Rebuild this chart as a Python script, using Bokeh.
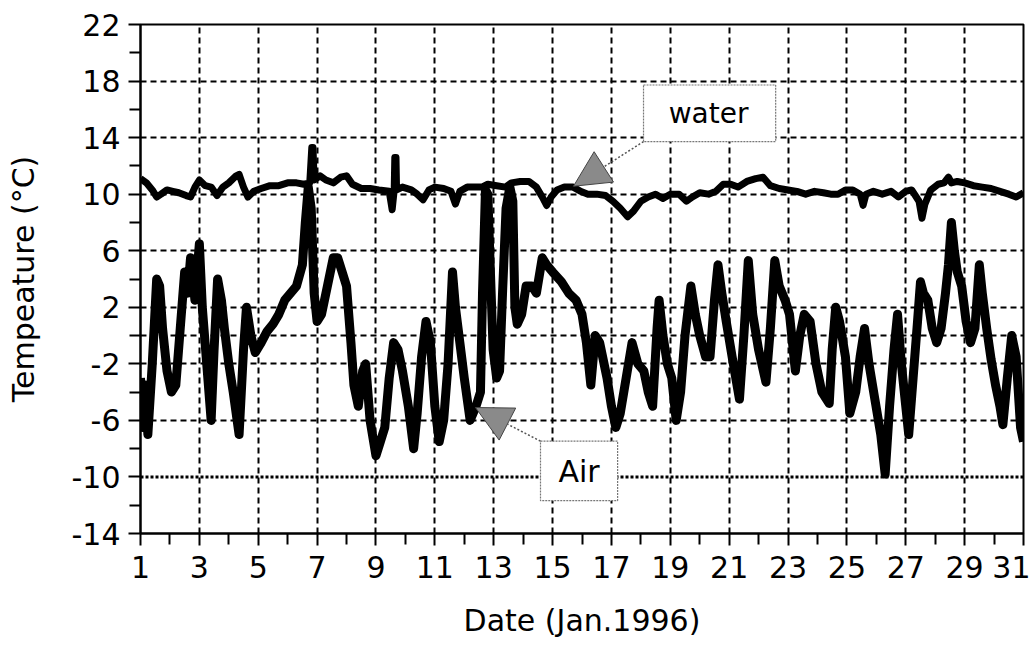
from bokeh.plotting import figure
from bokeh.models import FixedTicker, Span, Arrow, NormalHead, Range1d
from bokeh.core.properties import value
from bokeh.embed import file_html
from bokeh.resources import INLINE

# ---- data ----
air_day = [1.00, 1.08, 1.15, 1.25, 1.40, 1.55, 1.65, 1.75, 1.90, 2.05, 2.20, 2.35, 2.50, 2.60, 2.70, 2.85,
           3.00, 3.10, 3.25, 3.40, 3.50, 3.62, 3.75, 3.85, 4.00, 4.15, 4.35, 4.50, 4.60, 4.75, 4.90,
           5.10, 5.30, 5.50, 5.70, 5.90, 6.10, 6.30, 6.50, 6.60, 6.70, 6.80, 6.90, 7.00, 7.15, 7.35,
           7.55, 7.70, 7.85, 8.00, 8.15, 8.25, 8.40, 8.55, 8.65, 8.80, 9.00, 9.15, 9.30, 9.45, 9.60,
           9.75, 9.90, 10.10, 10.28, 10.40, 10.55, 10.70, 10.85, 11.00, 11.15, 11.30, 11.45, 11.60,
           11.70, 11.85, 12.00, 12.20, 12.40, 12.55, 12.62, 12.72, 12.80, 12.88, 12.98, 13.10, 13.20,
           13.30, 13.42, 13.55, 13.65, 13.72, 13.80, 13.95, 14.10, 14.30, 14.45, 14.65, 14.80, 15.00,
           15.30, 15.55, 15.80, 16.00, 16.15, 16.30, 16.45, 16.60, 16.85, 17.00, 17.15, 17.30, 17.50,
           17.70, 17.90, 18.10, 18.25, 18.40, 18.55, 18.62, 18.75, 18.90, 19.05, 19.20, 19.35, 19.50,
           19.70, 19.85, 20.00, 20.20, 20.35, 20.50, 20.62, 20.75, 20.90, 21.10, 21.35, 21.50, 21.65,
           21.80, 22.00, 22.25, 22.40, 22.55, 22.70, 22.90, 23.05, 23.25, 23.40, 23.55, 23.75, 23.95,
           24.15, 24.40, 24.50, 24.62, 24.75, 24.95, 25.10, 25.30, 25.45, 25.60, 25.75, 25.95, 26.15,
           26.30, 26.45, 26.60, 26.72, 26.85, 27.00, 27.10, 27.25, 27.40, 27.50, 27.60, 27.75, 27.90,
           28.05, 28.20, 28.35, 28.45, 28.55, 28.65, 28.75, 28.90, 29.05, 29.20, 29.35, 29.50, 29.60,
           29.75, 29.90, 30.05, 30.20, 30.30, 30.45, 30.60, 30.75, 30.90, 31.00]
air_temp = [-3.0, -6.5, -3.5, -7.0, -2.0, 4.0, 3.5, 0.5, -2.5, -4.0, -3.5, 0.5, 4.5, 3.0, 5.5, 2.5,
            6.5, 2.0, -2.0, -6.0, -1.0, 4.0, 2.5, 0.5, -2.0, -4.0, -7.0, -1.0, 2.0, 0.0, -1.2,
            -0.5, 0.3, 0.8, 1.5, 2.5, 3.0, 3.5, 5.0, 8.0, 10.5, 9.0, 3.0, 1.0, 1.5, 3.5,
            5.5, 5.5, 4.5, 3.5, -0.5, -3.5, -5.0, -2.5, -2.0, -6.0, -8.5, -7.5, -6.5, -3.0, -0.5,
            -1.0, -2.5, -5.0, -8.0, -5.5, -1.5, 1.0, -0.5, -5.0, -7.5, -6.0, -2.0, 4.5,
            2.0, -0.5, -3.0, -6.0, -5.0, -4.0, 3.0, 10.3, 10.0, 5.0, -1.0, -3.0, -2.5,
            3.0, 9.0, 10.5, 9.5, 2.0, 0.8, 1.5, 3.5, 3.5, 3.0, 5.5, 5.0, 4.5,
            3.8, 3.0, 2.5, 1.5, -0.5, -3.5, 0.0, -0.5, -3.0, -5.0, -6.5, -5.5, -3.0,
            -0.5, -2.0, -2.5, -4.0, -5.0, 0.5, 2.5, 0.0, -2.0, -3.0, -6.0, -4.0, 0.0,
            3.5, 1.5, 0.0, -1.5, -1.5, 2.5, 5.0, 3.0, 1.0, -1.5, -4.5, 0.0, 5.3,
            1.5, -1.0, -3.3, 0.5, 5.3, 3.5, 2.5, 1.5, -2.5, 0.0, 1.5, 1.0, -2.0,
            -4.0, -4.8, -1.0, 2.0, 1.0, -1.5, -5.5, -4.0, -1.5, 0.5, -2.0, -4.5, -7.0,
            -9.8, -5.0, -1.0, 1.5, -2.0, -5.0, -7.0, -3.0, 1.0, 3.8, 3.0, 2.5, 0.5,
            -0.5, 0.5, 3.0, 5.0, 8.0, 6.0, 4.5, 3.5, 1.0, -0.5, 0.5, 5.0, 3.0,
            0.5, -1.7, -3.5, -5.0, -6.3, -3.0, 0.0, -1.5, -6.5, -7.5]

water_day = [1.00, 1.20, 1.40, 1.55, 1.70, 1.90, 2.10, 2.30, 2.55, 2.70, 2.85, 3.00, 3.20, 3.40, 3.60,
             3.80, 4.00, 4.25, 4.35, 4.50, 4.65, 4.85, 5.10, 5.40, 5.70, 6.00, 6.30, 6.55, 6.75, 6.82,
             6.86, 6.90, 7.10, 7.30, 7.55, 7.80, 8.00, 8.20, 8.50, 8.80, 9.10, 9.45, 9.55, 9.62, 9.64,
             9.68, 9.70, 9.90, 10.20, 10.40, 10.60, 10.80, 11.00, 11.30, 11.55, 11.70, 11.85, 12.10,
             12.40, 12.60, 12.80, 13.10, 13.40, 13.60, 13.90, 14.20, 14.45, 14.65, 14.80, 14.95, 15.15,
             15.40, 15.70, 15.95, 16.20, 16.50, 16.80, 17.05, 17.30, 17.55, 17.75, 18.00, 18.25, 18.50,
             18.75, 19.00, 19.30, 19.55, 19.75, 20.00, 20.30, 20.55, 20.80, 21.05, 21.30, 21.60, 21.90,
             22.15, 22.40, 22.70, 23.00, 23.30, 23.60, 23.90, 24.20, 24.45, 24.70, 24.95, 25.20, 25.45,
             25.55, 25.65, 25.90, 26.20, 26.50, 26.75, 27.00, 27.20, 27.45, 27.55, 27.65, 27.85, 28.10,
             28.30, 28.45, 28.55, 28.75, 29.00, 29.30, 29.60, 29.90, 30.20, 30.50, 30.75, 31.00]
water_temp = [11.1, 10.8, 10.3, 9.8, 10.0, 10.3, 10.2, 10.1, 9.9, 9.8, 10.5, 11.0, 10.6, 10.5, 9.9,
              10.5, 10.8, 11.3, 11.4, 10.5, 9.8, 10.2, 10.4, 10.6, 10.6, 10.8, 10.8, 10.7, 10.8, 13.3,
              13.3, 11.0, 11.3, 11.0, 10.8, 11.2, 11.3, 10.7, 10.4, 10.4, 10.3, 10.2, 8.9, 10.3, 12.6,
              12.6, 10.3, 10.5, 10.3, 10.0, 9.6, 10.3, 10.5, 10.4, 10.2, 9.3, 10.2, 10.5,
              10.5, 10.5, 10.7, 10.6, 10.5, 10.8, 10.9, 10.9, 10.5, 9.8, 9.2, 9.8, 10.3,
              10.5, 10.5, 10.2, 10.0, 10.0, 9.9, 9.5, 9.0, 8.4, 8.8, 9.5, 9.8, 10.0,
              9.7, 10.0, 10.0, 9.5, 9.8, 10.1, 10.0, 10.2, 10.7, 10.7, 10.5, 10.9, 11.1,
              11.2, 10.6, 10.4, 10.3, 10.2, 10.0, 10.2, 10.1, 10.0, 10.0, 10.3, 10.3, 10.0,
              9.2, 10.0, 10.2, 10.0, 10.2, 9.8, 10.2, 10.3, 9.5, 8.3, 9.3, 10.3, 10.7,
              10.8, 11.2, 10.8, 10.9, 10.8, 10.6, 10.5, 10.4, 10.2, 10.0, 9.8, 10.1]

x_major = [1, 3, 5, 7, 9, 11, 13, 15, 17, 19, 21, 23, 25, 27, 29, 31]
x_minor = [2, 4, 6, 8, 10, 12, 14, 16, 18, 20, 22, 24, 26, 28, 30]
y_major = [-14, -10, -6, -2, 2, 6, 10, 14, 18, 22]
y_minor = [-12, -8, -4, 0, 4, 8, 12, 16, 20]
x_grid = [3, 5, 7, 9, 11, 13, 15, 17, 19, 21, 23, 25, 27, 29]
y_grid = [-6, -2, 0, 2, 6, 10, 14, 18]
y_dotted = -10

FONT = "DejaVu Sans"

p = figure(width=1030, height=640, output_backend="svg", toolbar_location=None,
           x_range=Range1d(1, 31), y_range=Range1d(-14, 22),
           min_border_left=140, min_border_right=7, min_border_top=24, min_border_bottom=103,
           background_fill_color="white", border_fill_color="white")

p.outline_line_color = "black"
p.outline_line_width = 2

# axes
for ax in (p.xaxis[0], p.yaxis[0]):
    ax.axis_line_width = 2
    ax.major_tick_line_width = 2
    ax.minor_tick_line_width = 2
    ax.major_tick_in = 0
    ax.minor_tick_in = 0
    ax.major_tick_out = 12
    ax.minor_tick_out = 11
    ax.major_label_text_font = FONT
    ax.major_label_text_font_size = "30px"
    ax.major_label_text_color = "black"
    ax.axis_label_text_font = FONT
    ax.axis_label_text_font_size = "30px"
    ax.axis_label_text_font_style = "normal"
    ax.axis_label_text_color = "black"

p.xaxis.ticker = FixedTicker(ticks=x_major, minor_ticks=x_minor)
p.yaxis.ticker = FixedTicker(ticks=y_major, minor_ticks=y_minor)
p.yaxis.major_label_overrides = {t: str(t) for t in y_major}
p.xaxis.axis_label = "Date (Jan.1996)"
p.yaxis.axis_label = "Tempeature (°C)"
p.xaxis.major_label_standoff = 10
p.yaxis.major_label_standoff = 8
p.xaxis.axis_label_standoff = 22
p.yaxis.axis_label_standoff = 28

# grids
p.xgrid.ticker = FixedTicker(ticks=x_grid)
p.ygrid.ticker = FixedTicker(ticks=y_grid)
for g in (p.xgrid[0], p.ygrid[0]):
    g.grid_line_color = "black"
    g.grid_line_width = 2
    g.grid_line_dash = "6 4"
p.add_layout(Span(location=y_dotted, dimension="width", line_color="black",
                  line_width=3, line_dash="3 2", level="underlay"))

# series
p.line(water_day, water_temp, line_color="black", line_width=7, line_join="round")
p.line(air_day, air_temp, line_color="black", line_width=9, line_join="round")

# callouts
p.quad(left=[18.09], right=[22.58], bottom=[13.72], top=[17.72],
       fill_color="white", line_color="#777777", line_width=1.2, line_dash="2 1")
p.quad(left=[14.59], right=[17.21], bottom=[-11.68], top=[-7.47],
       fill_color="white", line_color="#777777", line_width=1.2, line_dash="2 1")
p.text(x=[20.3], y=[15.7], text=["water"], text_font=value(FONT), text_font_size="28px",
       text_align="center", text_baseline="middle", text_color="black")
p.text(x=[15.9], y=[-9.6], text=["Air"], text_font=value(FONT), text_font_size="30px",
       text_align="center", text_baseline="middle", text_color="black")

p.add_layout(Arrow(end=NormalHead(size=36, fill_color="#8a8a8a", line_color="#444444", line_width=1),
                   x_start=18.09, y_start=13.72, x_end=15.71, y_end=10.56,
                   line_color="#555555", line_width=1.5, line_dash="2 2"))
p.add_layout(Arrow(end=NormalHead(size=36, fill_color="#8a8a8a", line_color="#444444", line_width=1),
                   x_start=14.59, y_start=-7.47, x_end=12.38, y_end=-5.09,
                   line_color="#555555", line_width=1.5, line_dash="2 2"))

open("out.html", "w").write(file_html(p, INLINE))
